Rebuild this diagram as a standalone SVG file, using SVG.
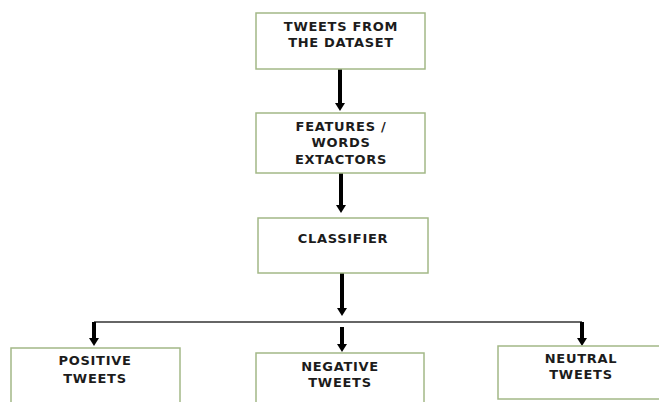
<svg xmlns="http://www.w3.org/2000/svg" width="659" height="402" viewBox="0 0 659 402">
<style>
.box{fill:#ffffff;stroke:#a3b887;stroke-width:1.5}
.t{font-family:"DejaVu Sans","Open Sans",sans-serif;font-weight:bold;font-size:13px;letter-spacing:0.7px;fill:#1c1c1c;text-anchor:middle}
.v{stroke:#000;stroke-width:4;fill:none}
.h{stroke:#333;stroke-width:1.5;fill:none}
.ah{fill:#000}
</style>
<rect width="659" height="402" fill="#fff"/>
<g id="connectors">
<line class="v" x1="340" y1="69" x2="340" y2="104"/>
<path class="ah" d="M335,103 L345,103 L340,111 Z"/>
<line class="v" x1="341" y1="173" x2="341" y2="206"/>
<path class="ah" d="M336,205 L346,205 L341,213 Z"/>
<line class="v" x1="342" y1="273" x2="342" y2="309"/>
<path class="ah" d="M337,308 L347,308 L342,316 Z"/>
<line class="h" x1="94" y1="322" x2="582" y2="322"/>
<line class="v" x1="94" y1="322" x2="94" y2="339"/>
<path class="ah" d="M89,338 L99,338 L94,346 Z"/>
<line class="v" x1="342" y1="327" x2="342" y2="345"/>
<path class="ah" d="M337,344 L347,344 L342,352 Z"/>
<line class="v" x1="582" y1="322" x2="582" y2="339"/>
<path class="ah" d="M577,338 L587,338 L582,346 Z"/>
</g>
<g id="tweets">
<rect class="box" x="256" y="13" width="169" height="56"/>
<text class="t" x="341" y="31">TWEETS FROM</text>
<text class="t" x="341" y="47">THE DATASET</text>
</g>
<g id="features">
<rect class="box" x="256" y="113" width="169" height="60"/>
<text class="t" x="341" y="131">FEATURES /</text>
<text class="t" x="341" y="147">WORDS</text>
<text class="t" x="341" y="164">EXTACTORS</text>
</g>
<g id="classifier">
<rect class="box" x="258" y="218" width="170" height="55"/>
<text class="t" x="343" y="243">CLASSIFIER</text>
</g>
<g id="positive">
<rect class="box" x="11" y="348" width="169" height="60"/>
<text class="t" x="95" y="365">POSITIVE</text>
<text class="t" x="95" y="383">TWEETS</text>
</g>
<g id="negative">
<rect class="box" x="256" y="353" width="168" height="60"/>
<text class="t" x="340" y="371">NEGATIVE</text>
<text class="t" x="340" y="387">TWEETS</text>
</g>
<g id="neutral">
<rect class="box" x="498" y="346" width="170" height="53"/>
<text class="t" x="581" y="363">NEUTRAL</text>
<text class="t" x="581" y="379">TWEETS</text>
</g>
</svg>
